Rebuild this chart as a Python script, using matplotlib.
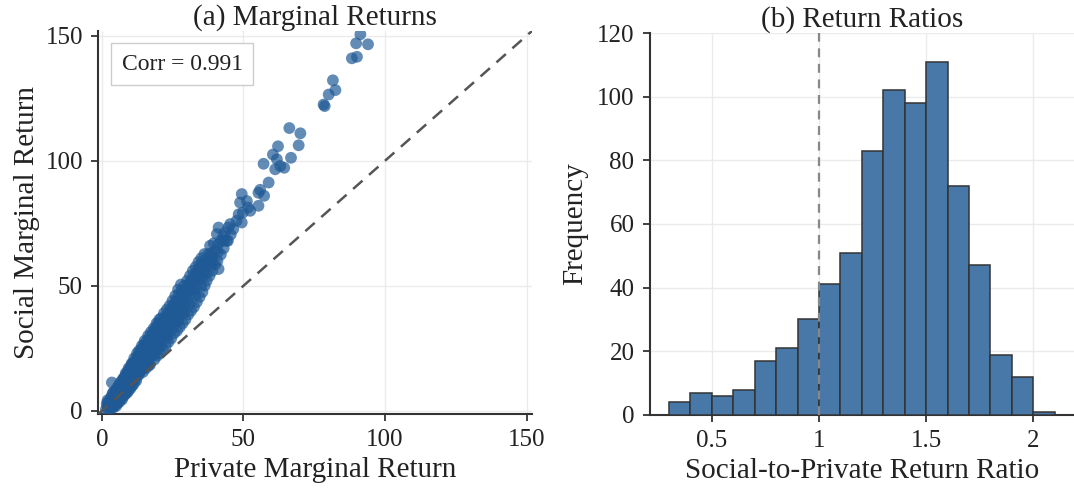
#!/usr/bin/python3
import matplotlib
matplotlib.use('Agg')
import matplotlib.pyplot as plt
import numpy as np

# scatter: private vs social marginal returns
private_return = [
    1.4, 1.7, 2.1, 1.9, 2.2, 2.0, 2.6, 2.4, 2.7,
    3.1, 2.9, 3.2, 3.0, 3.3,
    3.6, 3.4, 3.7, 3.5, 3.8, 3.5,
    4.1, 3.9, 4.2, 4.0, 4.3, 4.1,
    4.6, 4.4, 4.7, 4.5, 4.8,
    5.1, 4.9, 5.2, 5.0, 5.3, 5.1,
    5.6, 5.4, 5.7, 5.5, 5.8, 5.6,
    6.1, 5.9, 6.2, 6.0, 6.3, 6.1,
    6.6, 6.4, 6.7, 6.5, 6.8, 6.6,
    7.1, 6.9, 7.2, 7.0, 7.3, 7.1, 7.4,
    7.6, 7.4, 7.7, 7.5, 7.8, 7.6,
    8.1, 7.9, 8.2, 8.0, 8.3, 8.1, 8.4,
    8.6, 8.4, 8.7, 8.5, 8.8, 8.6,
    9.1, 8.9, 9.2, 9.0, 9.3, 9.1, 9.4,
    9.6, 9.4, 9.7, 9.5, 9.8, 9.6,
    10.1, 9.9, 10.2, 10.0, 10.3, 10.1, 10.4,
    10.6, 10.4, 10.7, 10.5, 10.8, 10.6,
    11.1, 10.9, 11.2, 11.0, 11.3, 11.1, 11.4,
    11.6, 11.4, 11.7, 11.5, 11.8,
    12.1, 11.9, 12.2, 12.0, 12.3, 12.1, 12.4,
    12.6, 12.4, 12.7, 12.5, 12.8,
    13.1, 12.9, 13.2, 13.0, 13.3, 13.1,
    13.6, 13.4, 13.7, 13.5, 13.8,
    14.1, 13.9, 14.2, 14.0, 14.3, 14.1,
    14.6, 14.4, 14.7, 14.5, 14.8,
    15.1, 14.9, 15.2, 15.0, 15.3, 15.1,
    16.0, 15.8, 16.2, 16.1, 15.9, 16.3,
    17.0, 16.8, 17.2, 17.1, 16.9, 17.3,
    18.0, 17.8, 18.2, 18.1, 17.9, 18.3,
    19.0, 18.8, 19.2, 19.1, 18.9, 19.3,
    20.0, 19.8, 20.2, 20.1, 19.9, 20.3,
    21.0, 20.8, 21.2, 21.1, 20.9,
    22.0, 21.8, 22.2, 22.1, 21.9,
    23.0, 22.8, 23.2, 23.1, 22.9,
    24.0, 23.8, 24.2, 24.1, 23.9,
    25.0, 24.8, 25.2, 25.1, 24.9,
    26.0, 25.8, 26.2, 26.1, 25.9,
    27.0, 26.8, 27.2, 27.1, 26.9,
    28.0, 27.8, 28.2, 28.1, 27.9,
    29.0, 28.8, 29.2, 29.1,
    30.0, 29.8, 30.2, 30.1,
    16.5, 18.5, 20.5, 23.0, 26.5, 28.5,
    31.0, 30.8, 31.2, 31.1,
    32.0, 31.8, 32.2, 32.1,
    33.0, 32.8, 33.2, 33.1,
    34.0, 33.8, 34.2, 34.1,
    35.0, 34.8, 35.2, 35.1,
    36.0, 35.8, 36.2,
    37.0, 36.8, 37.6,
    38.2, 38.2, 38.5,
    39.0, 40.0, 39.5,
    41.2, 40.6, 41.2, 41.0,
    42.9, 42.0, 43.5, 44.1,
    44.7, 45.3, 46.4, 47.6, 49.4,
    # lower edge of the band
    17.0, 18.5, 19.5, 20.5, 21.5, 22.5, 23.5, 24.5, 25.5, 26.5,
    27.5, 28.5, 29.5, 30.5, 31.5, 32.5, 33.5, 34.5, 35.5, 36.3,
    37.0, 38.0, 39.0, 40.0, 40.8, 42.0, 43.0, 44.5, 45.5,
    19.0, 21.0, 23.0, 25.0, 27.0, 29.0, 31.0, 33.0, 35.0, 37.0,
    39.0, 41.0, 43.0, 23.5, 26.5, 29.5, 32.5, 35.5, 38.5,
    14.5, 15.5, 16.5,
    # sparse upper tail
    48.3, 49.8, 52.4, 51.6, 55.3, 48.8, 51.2, 49.4, 55.3, 57.3, 55.9, 58.9,
    57.1, 60.4, 61.8, 63.0, 64.4, 61.2, 62.2, 66.8, 66.2, 70.1, 69.5,
    78.3, 78.7, 80.1, 82.5, 81.6, 88.3, 90.1, 89.8, 94.0, 91.3,
]
social_return = [
    0.5, 2.8, 0.8, 2.0, 3.5, 4.2, 1.0, 2.5, 3.8,
    0.9, 1.8, 3.2, 4.5, 5.6,
    1.5, 3.0, 4.2, 5.5, 7.0, 11.3,
    1.3, 2.6, 4.0, 5.0, 6.2, 7.5,
    2.2, 3.6, 5.2, 6.3, 8.0,
    2.0, 3.5, 5.0, 6.5, 7.4, 8.6,
    3.2, 4.8, 6.0, 7.2, 8.5, 9.5,
    3.5, 5.5, 7.0, 8.2, 9.0, 10.5,
    4.5, 6.2, 7.8, 9.2, 10.2, 11.5,
    4.5, 6.0, 7.5, 8.8, 10.0, 11.0, 12.5,
    5.8, 7.2, 9.0, 10.5, 11.8, 13.0,
    6.5, 8.0, 9.5, 11.0, 12.0, 13.5, 15.0,
    7.0, 9.0, 10.5, 12.0, 13.0, 14.5,
    7.5, 9.5, 11.5, 12.8, 14.0, 15.5, 17.0,
    8.5, 10.5, 12.5, 13.5, 15.0, 16.5,
    9.0, 11.0, 13.0, 14.5, 15.5, 17.0, 18.5,
    10.0, 12.5, 14.0, 15.5, 17.0, 19.0,
    10.5, 12.5, 14.5, 16.0, 17.5, 19.0, 21.0,
    12.0, 14.0, 16.0, 17.5, 19.5,
    12.0, 14.5, 16.5, 18.0, 19.5, 21.0, 23.0,
    14.0, 16.5, 18.5, 20.0, 22.0,
    14.5, 17.0, 19.0, 20.5, 22.0, 24.0,
    16.0, 18.5, 20.5, 22.0, 24.5,
    16.5, 19.0, 21.0, 22.5, 24.0, 26.0,
    18.0, 20.5, 22.5, 24.0, 26.5,
    18.5, 21.0, 23.0, 24.5, 26.0, 28.0,
    20.0, 22.5, 24.5, 26.0, 28.0, 30.0,
    22.0, 24.0, 26.0, 28.0, 29.5, 31.5,
    23.5, 26.0, 28.0, 29.5, 31.0, 33.0,
    25.0, 27.5, 29.5, 31.0, 33.0, 35.0,
    27.0, 29.5, 31.5, 33.0, 35.0, 36.5,
    28.5, 31.0, 33.0, 35.0, 37.0,
    30.5, 33.0, 35.0, 37.0, 39.0,
    32.0, 34.5, 36.5, 38.5, 40.5,
    34.0, 36.0, 38.0, 40.0, 42.0,
    35.5, 38.0, 40.0, 42.0, 44.0,
    37.5, 40.0, 42.0, 44.0, 46.0,
    39.5, 42.0, 44.0, 46.5, 48.5,
    41.0, 43.5, 46.0, 48.0, 50.5,
    43.0, 45.5, 47.5, 50.0,
    44.5, 47.0, 49.5, 52.0,
    19.0, 22.5, 25.5, 30.0, 36.0, 39.5,
    46.5, 49.0, 51.5, 54.0,
    48.5, 51.0, 53.5, 56.0,
    50.0, 52.5, 55.0, 57.5,
    52.0, 54.5, 57.0, 59.5,
    54.0, 56.5, 59.0, 61.0,
    56.0, 58.5, 62.7,
    58.0, 60.5, 62.7,
    60.0, 66.0, 63.0,
    61.5, 64.0, 67.0,
    56.7, 70.7, 73.3, 66.5,
    70.0, 68.0, 71.3, 68.0,
    73.3, 74.7, 72.7, 76.0, 75.3,
    # lower edge of the band
    18.5, 20.5, 22.0, 23.0, 24.5, 26.0, 27.5, 29.0, 31.0, 32.0,
    33.5, 35.0, 36.5, 38.5, 40.0, 41.5, 43.5, 45.5, 47.5, 50.0,
    52.0, 54.0, 56.0, 58.5, 60.0, 62.5, 65.0, 68.0, 70.5,
    24.5, 27.0, 29.5, 33.0, 36.0, 39.0, 42.5, 46.0, 50.0, 55.0,
    59.5, 63.5, 68.0, 33.0, 38.5, 43.0, 48.0, 53.5, 58.0,
    15.5, 17.0, 18.0,
    # sparse upper tail
    78.6, 79.3, 80.0, 81.3, 82.0, 83.3, 83.9, 86.7, 87.2, 86.0, 88.4, 91.3,
    98.8, 102.5, 100.6, 97.9, 97.2, 96.6, 105.8, 101.2, 113.1, 111.0, 106.2,
    122.5, 121.9, 126.5, 128.3, 132.2, 141.0, 141.6, 147.0, 146.6, 150.6,
]
corr_text = "Corr = 0.991"

# histogram of social-to-private return ratios
bin_edges = [0.3, 0.4, 0.5, 0.6, 0.7, 0.8, 0.9, 1.0, 1.1, 1.2,
             1.3, 1.4, 1.5, 1.6, 1.7, 1.8, 1.9, 2.0, 2.1]
bin_counts = [4, 7, 6, 8, 17, 21, 30, 41, 51, 83,
              102, 98, 111, 72, 47, 19, 12, 1]


def style_axes(ax):
    for side in ['top', 'right']:
        ax.spines[side].set_visible(False)
    for side in ['left', 'bottom']:
        ax.spines[side].set_color('#333333')
        ax.spines[side].set_linewidth(1.5)
    ax.tick_params(axis='both', labelsize=18, colors='#333333', length=5,
                   width=1.3, labelcolor='#222222', pad=6)
    ax.grid(True, color='#ebebeb', linewidth=1)
    ax.set_axisbelow(True)


def main():
    plt.rcParams['font.family'] = ['Liberation Serif', 'DejaVu Serif']
    fig = plt.figure(figsize=(10.74, 4.97), dpi=100)

    # (a) scatter
    ax1 = fig.add_axes([0.0915, 0.167, 0.404, 0.771])
    style_axes(ax1)
    lims = (-1.3, 152)
    ax1.scatter(private_return, social_return, s=72, color='#1f5a96',
                alpha=0.7, edgecolors='none', zorder=3)
    ax1.plot(lims, lims, linestyle='--', color='#555555', linewidth=1.8,
             dashes=(5, 3.5), zorder=4)
    ax1.set_xlim(lims)
    ax1.set_ylim(lims)
    ax1.set_xticks([0, 50, 100, 150])
    ax1.set_yticks([0, 50, 100, 150])
    ax1.set_xlabel("Private Marginal Return", fontsize=21, color='#222222', labelpad=4)
    ax1.set_ylabel("Social Marginal Return", fontsize=21, color='#222222', labelpad=4)
    ax1.set_title("(a) Marginal Returns", fontsize=21, color='#222222', pad=4)
    ax1.text(0.054, 0.94, corr_text, transform=ax1.transAxes, fontsize=17,
             va='top', ha='left', color='#222222', zorder=5,
             bbox=dict(boxstyle='square,pad=0.45', facecolor='white',
                       edgecolor='#cccccc', linewidth=1))

    # (b) histogram
    ax2 = fig.add_axes([0.605, 0.165, 0.395, 0.7686])
    style_axes(ax2)
    widths = np.diff(bin_edges)
    ax2.bar(bin_edges[:-1], bin_counts, width=widths, align='edge',
            color='#4878a8', edgecolor='#333333', linewidth=1.1, zorder=3)
    ax2.axvline(1.0, color='#888888', linestyle='--', linewidth=1.6,
                dashes=(4, 3), zorder=4)
    ax2.set_ylim(0, 120)
    ax2.set_yticks([0, 20, 40, 60, 80, 100, 120])
    ax2.set_xticks([0.5, 1.0, 1.5, 2.0])
    ax2.set_xticklabels(['0.5', '1', '1.5', '2'])
    ax2.set_xlabel("Social-to-Private Return Ratio", fontsize=21, color='#222222', labelpad=4)
    ax2.set_ylabel("Frequency", fontsize=21, color='#222222', labelpad=6)
    ax2.set_title("(b) Return Ratios", fontsize=21, color='#222222', pad=4)

    plt.savefig("out.png", dpi=100)


if __name__ == "__main__":
    main()
